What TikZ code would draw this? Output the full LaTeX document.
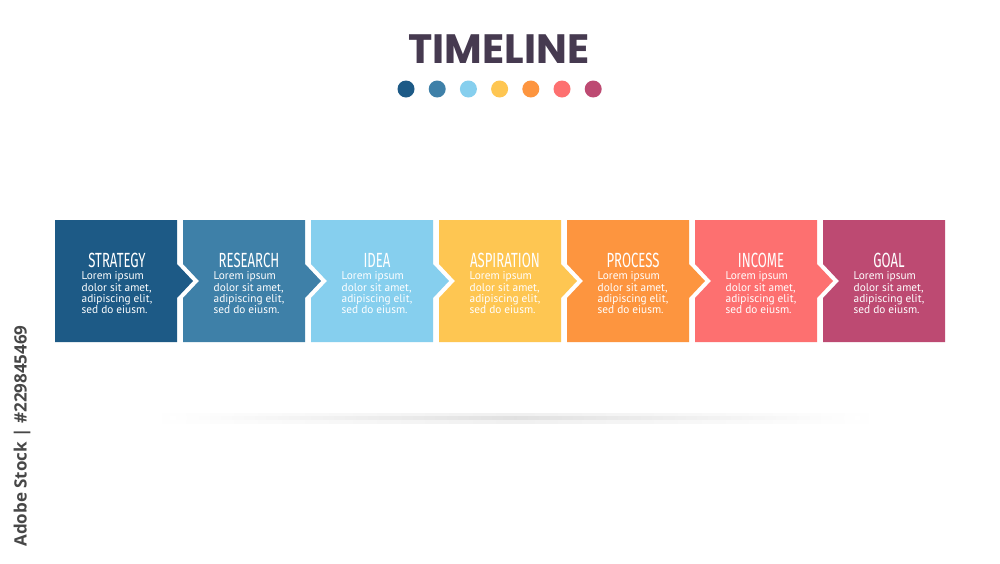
\documentclass[tikz,border=0pt]{standalone}
\usepackage{fontspec}
\setmainfont{Open Sans}
\newfontfamily\bodyfont{PT Sans}
\newfontfamily\titlefont{Poppins}
\newfontfamily\headfont[FakeStretch=0.64]{Fira Sans}

\definecolor{titlegray}{HTML}{463A50}
\definecolor{strategyblue}{HTML}{1D5A86}
\definecolor{researchblue}{HTML}{3E80A8}
\definecolor{ideablue}{HTML}{86CFEE}
\definecolor{aspirationyellow}{HTML}{FEC652}
\definecolor{processorange}{HTML}{FD953F}
\definecolor{incomered}{HTML}{FD7070}
\definecolor{goalpurple}{HTML}{BD4A72}

\def\w{122}
\def\pitch{128}
\def\tip{16}
\def\half{17}

\tikzset{
  stephead/.style={text=white,font=\headfont\fontsize{20.5}{20.5}\selectfont,inner sep=0pt},
  steptext/.style={text=white,font=\bodyfont\fontsize{11.3}{11.3}\selectfont,align=left,inner sep=0pt}
}

\begin{document}
\begin{tikzpicture}[x=1pt,y=-1pt]
\useasboundingbox (0,0) rectangle (1000,563);
\fill[white] (0,0) rectangle (1000,563);

% title and dots
\node[text=titlegray,font=\titlefont\bfseries\fontsize{41}{41}\selectfont,inner sep=0pt] (title) at (499,49.5) {TIMELINE};
\foreach \col [count=\j from 0] in {strategyblue,researchblue,ideablue,aspirationyellow,processorange,incomered,goalpurple}{
	\fill[\col] ({406+31.2*\j},89) circle (8.5);
}

% steps
\foreach \name/\col [count=\i from 0] in {STRATEGY/strategyblue,RESEARCH/researchblue,IDEA/ideablue,ASPIRATION/aspirationyellow,PROCESS/processorange,INCOME/incomered,GOAL/goalpurple}{
	\pgfmathsetmacro{\xa}{55+\pitch*\i}
	\pgfmathsetmacro{\xb}{\xa+\w}
	\pgfmathsetmacro{\dl}{\i==0 ? 0 : \tip}
	\pgfmathsetmacro{\dr}{\i==6 ? 0 : \tip}
	\fill[\col] (\xa,220) -- (\xb,220) -- (\xb,281-\half) -- ({\xb+\dr},281)
		-- (\xb,281+\half) -- (\xb,342) -- (\xa,342) -- (\xa,281+\half)
		-- ({\xa+\dl},281) -- (\xa,281-\half) -- cycle;
	\node[steptext,anchor=north] (text-\i) at ({\xa+62+\dl/4},271.5) {Lorem ipsum\\dolor sit amet,\\adipiscing elit,\\sed do eiusm.};
	\node[stephead,anchor=base] (head-\i) at (text-\i.north |- 0,267) {\name};
}

% shadow under the row
\shade[left color=white,right color=white,middle color=black!6] (150,413) rectangle (880,423);
\shade[left color=white,right color=white,middle color=black!12] (170,416.5) rectangle (860,419.5);

\node[rotate=90,text=black!72,font=\bfseries\fontsize{17}{17}\selectfont,inner sep=0pt] (stock) at (22,436) {Adobe Stock | \#229845469};
\end{tikzpicture}
\end{document}
